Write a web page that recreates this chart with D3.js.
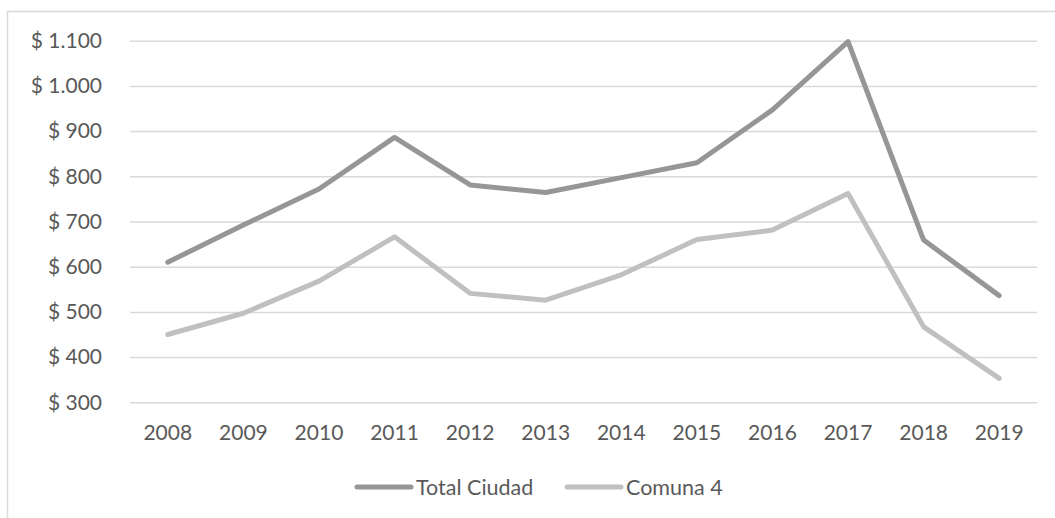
<!DOCTYPE html>
<html>
<head>
<meta charset="utf-8">
<script src="https://cdn.jsdelivr.net/npm/d3@7"></script>
<style>
  body { margin: 0; background: #fff; }
  text { font-family: Lato, "Open Sans", sans-serif; fill: #595959; }
</style>
</head>
<body>
<svg id="chart" width="1055" height="518"></svg>
<script>
const years = ["2008", "2009", "2010", "2011", "2012", "2013", "2014", "2015", "2016", "2017", "2018", "2019"]
const totalCiudad = [610, 692, 772, 886, 781, 764, 797, 830, 947, 1098, 659, 536]
const comuna4 = [450, 497, 568, 666, 541, 526, 582, 660, 681, 762, 467, 353]
const yTicks = [300, 400, 500, 600, 700, 800, 900, 1000, 1100]
const seriesNames = ["Total Ciudad", "Comuna 4"]
const seriesColors = ["#969696", "#c0c0c0"]

const svg = d3.select("#chart")

// outer chart border (right/bottom edges fall outside the frame)
svg.append("rect")
    .attr("x", 7.5).attr("y", 11.5)
    .attr("width", 1060).attr("height", 520)
    .attr("fill", "none")
    .attr("stroke", "#d9d9d9")
    .attr("stroke-width", 1.5)

const plotLeft = 130, plotRight = 1037, plotTop = 40.7, plotBottom = 402.3

const x = d3.scaleBand()
    .domain(years)
    .range([plotLeft, plotRight])

const y = d3.scaleLinear()
    .domain([300, 1100])
    .range([plotBottom, plotTop])

const fmt = v => "$ " + d3.format(",")(v).replace(/,/g, ".")

// gridlines
svg.append("g")
    .attr("transform", "translate(" + plotLeft + ",0)")
    .call(d3.axisLeft(y).tickValues(yTicks).tickSize(-(plotRight - plotLeft)).tickFormat(""))
    .call(g => g.select(".domain").remove())
    .call(g => g.selectAll("line").attr("stroke", "#d9d9d9").attr("stroke-width", 1.5))

// y labels
svg.append("g")
    .attr("transform", "translate(" + plotLeft + ",0)")
    .call(d3.axisLeft(y).tickValues(yTicks).tickSize(0).tickPadding(28).tickFormat(fmt))
    .call(g => g.select(".domain").remove())
    .call(g => g.selectAll("text").style("font-size", "21px").attr("fill", "#595959"))

// x labels
svg.append("g")
    .attr("transform", "translate(0," + plotBottom + ")")
    .call(d3.axisBottom(x).tickSize(0).tickPadding(23))
    .call(g => g.select(".domain").remove())
    .call(g => g.selectAll("text").style("font-size", "21px").attr("fill", "#595959"))

const line = d3.line()
    .x((d, i) => x(years[i]) + x.bandwidth() / 2)
    .y(d => y(d))

const series = [totalCiudad, comuna4]

svg.selectAll(".series")
    .data(series)
    .enter()
    .append("path")
    .attr("class", "series")
    .attr("d", d => line(d))
    .attr("fill", "none")
    .attr("stroke", (d, i) => seriesColors[i])
    .attr("stroke-width", 5)
    .attr("stroke-linejoin", "round")
    .attr("stroke-linecap", "round")

// legend
const legendX = [357, 567]
const legendY = 487
seriesNames.forEach((name, i) => {
    svg.append("line")
        .attr("x1", legendX[i]).attr("x2", legendX[i] + 54)
        .attr("y1", legendY).attr("y2", legendY)
        .attr("stroke", seriesColors[i])
        .attr("stroke-width", 5)
        .attr("stroke-linecap", "round")
    svg.append("text")
        .attr("x", legendX[i] + 59)
        .attr("y", legendY)
        .attr("dy", "0.35em")
        .style("font-size", "21.5px")
        .text(name)
})
</script>
</body>
</html>
